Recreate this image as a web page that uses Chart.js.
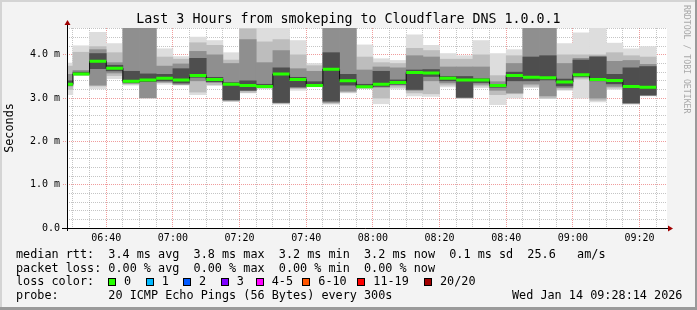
<!DOCTYPE html>
<html><head><meta charset="utf-8">
<script src="https://cdn.jsdelivr.net/npm/chart.js@4/dist/chart.umd.min.js"></script>
<style>
html,body{margin:0;padding:0;background:#f3f3f3;}
#wrap{position:relative;width:697px;height:310px;background:#f3f3f3;overflow:hidden;font-family:"DejaVu Sans Mono",monospace;color:#000;}
#c{position:absolute;left:0;top:0;}
.t{position:absolute;white-space:pre;}
.lg{font-size:11.8px;line-height:13.6px;}
.box{position:absolute;width:6px;height:6px;border:1px solid #000;}
.edge{position:absolute;}
</style></head>
<body>
<div id="wrap">
<canvas id="c" width="697" height="310"></canvas>
<div class="t" style="left:0;width:697px;text-align:center;top:11px;font-size:13.3px;line-height:16px;">Last 3 Hours from smokeping to Cloudflare DNS 1.0.0.1</div>
<div class="t" style="left:682px;top:5px;font-size:8.2px;line-height:9px;color:#a8a8a8;writing-mode:vertical-rl;">RRDTOOL / TOBI OETIKER</div>
<div class="t lg" style="left:16px;top:248px;">median rtt:  3.4 ms avg  3.8 ms max  3.2 ms min  3.2 ms now  0.1 ms sd  25.6   am/s</div>
<div class="t lg" style="left:16px;top:261.6px;">packet loss: 0.00 % avg  0.00 % max  0.00 % min  0.00 % now</div>
<div class="t lg" id="lossRow" style="left:16px;top:275.2px;">loss color:</div>
<div class="t lg" style="left:16px;top:288.8px;">probe:       20 ICMP Echo Pings (56 Bytes) every 300s</div>
<div class="t lg" style="left:512px;top:288.8px;">Wed Jan 14 09:28:14 2026</div>
<div class="edge" style="left:0;top:0;width:697px;height:2px;background:#d4d4d4;"></div>
<div class="edge" style="left:0;top:0;width:2px;height:310px;background:#d4d4d4;"></div>
<div class="edge" style="left:695px;top:0;width:2px;height:310px;background:#9a9a9a;"></div>
<div class="edge" style="left:0;top:307px;width:697px;height:3px;background:#9a9a9a;"></div>
</div>
<script>
// ---- data ----
const binStarts = ['06:25','06:30','06:35','06:40','06:45','06:50','06:55','07:00','07:05','07:10','07:15','07:20',
  '07:25','07:30','07:35','07:40','07:45','07:50','07:55','08:00','08:05','08:10','08:15','08:20',
  '08:25','08:30','08:35','08:40','08:45','08:50','08:55','09:00','09:05','09:10','09:15','09:20'];
const stepMinutes = 5;
const median = [3.32,3.56,3.85,3.69,3.39,3.42,3.46,3.42,3.52,3.43,3.32,3.29,3.27,3.56,3.43,3.29,3.67,3.40,
  3.26,3.32,3.36,3.59,3.58,3.46,3.42,3.42,3.29,3.52,3.48,3.47,3.37,3.54,3.43,3.41,3.27,3.25];
// outermost smoke (min..max)
const aLo = [3.08,3.52,3.21,3.45,3.30,3.00,3.32,3.30,3.08,3.29,2.92,3.12,3.21,2.86,3.18,3.26,2.86,3.12,
  3.22,2.87,3.21,3.05,3.04,3.26,2.99,3.24,2.85,3.00,3.24,2.99,3.18,3.00,2.91,3.20,2.86,3.05];
const aHi = [3.81,4.21,4.52,4.26,4.90,4.90,4.14,3.96,4.41,4.33,4.05,4.90,4.62,4.65,4.33,3.80,4.90,4.90,
  4.23,3.91,3.87,4.46,4.22,4.03,3.98,4.33,4.03,4.12,4.90,4.90,4.26,4.51,4.63,4.27,4.14,4.19];
const bLo = [3.20,3.53,3.28,3.52,3.32,3.00,3.36,3.31,3.14,3.31,2.93,3.13,3.23,2.88,3.22,3.27,2.88,3.14,
  3.23,3.00,3.25,3.12,3.10,3.30,3.00,3.28,3.08,3.10,3.27,3.00,3.20,3.44,2.95,3.23,2.87,3.06];
const bHi = [3.74,4.06,4.19,4.05,4.85,4.85,3.95,3.90,4.28,4.22,3.88,4.60,4.30,4.35,4.00,3.75,4.85,4.85,
  3.95,3.82,3.80,4.15,4.10,3.90,3.90,4.00,3.52,3.98,4.85,4.85,4.00,4.00,4.00,4.05,3.98,3.95];
const cLo = [3.28,3.54,3.30,3.58,3.34,3.01,3.37,3.32,3.40,3.36,2.95,3.18,3.25,2.89,3.24,3.28,2.90,3.16,
  3.24,3.25,3.30,3.18,3.40,3.35,3.01,3.32,3.18,3.12,3.32,3.05,3.24,3.48,3.00,3.27,2.88,3.07];
const cHi = [3.55,3.64,4.12,3.82,4.80,4.80,3.74,3.79,4.08,4.00,3.80,4.35,3.82,4.10,3.68,3.62,4.80,4.80,
  3.65,3.72,3.70,3.98,3.95,3.72,3.72,3.72,3.38,3.80,4.80,4.80,3.80,3.92,3.97,3.85,3.87,3.78];
// innermost smoke (around the median)
const dLo = [3.30,3.55,3.68,3.63,3.36,3.38,3.40,3.35,3.48,3.38,2.96,3.18,3.26,2.90,3.26,3.28,2.93,3.30,
  3.25,3.27,3.32,3.20,3.50,3.40,3.02,3.36,3.25,3.40,3.40,3.42,3.28,3.50,3.40,3.33,2.89,3.07];
const dHi = [3.40,3.60,4.03,3.76,3.62,3.56,3.55,3.68,3.92,3.48,3.36,3.40,3.32,3.70,3.48,3.38,4.05,3.55,
  3.32,3.62,3.42,3.65,3.66,3.50,3.50,3.45,3.31,3.60,3.95,3.98,3.44,3.88,3.95,3.55,3.70,3.73];
const xTickLabels = ['06:40','07:00','07:20','07:40','08:00','08:20','08:40','09:00','09:20'];
const yTickLabels = ['0.0','1.0 m','2.0 m','3.0 m','4.0 m'];
const lossLabels = ['0','1','2','3','4-5','6-10','11-19','20/20'];
const lossColors = ['#26ff00','#00b8ff','#0059ff','#7e00ff','#ff00ff','#ff5500','#ff0000','#a10000'];
const viewStart = '06:28:14', viewEnd = '09:28:14';

// ---- helpers ----
const toMin = s => { const p = s.split(':').map(Number); return p[0]*60 + p[1] + (p[2]||0)/60; };
const xMin = toMin(viewStart), xMax = toMin(viewEnd);
const firstLabelMin = toMin(xTickLabels[0]);
const centers = binStarts.map(s => toMin(s) + stepMinutes/2);
const band = (lo, hi) => centers.map((x,i) => ({x, y:[lo[i], hi[i]]}));

const greenData = [];
median.forEach((m,i) => { const s = toMin(binStarts[i]); greenData.push({x:s,y:m},{x:s+stepMinutes,y:m},{x:s+stepMinutes,y:null}); });
const stepData = median.map((m,i) => ({x:toMin(binStarts[i]), y:m}));
stepData.push({x: toMin(binStarts[binStarts.length-1]) + stepMinutes, y: median[median.length-1]});

// loss legend
(function(){
  const wrap = document.getElementById('wrap');
  const labelX = [124,161.7,199,236.7,271.7,318.3,373.3,440];
  lossLabels.forEach((l,i)=>{
    const b = document.createElement('div'); b.className='box';
    b.style.left = (labelX[i]-16)+'px'; b.style.top='278px'; b.style.background = lossColors[i];
    wrap.appendChild(b);
    const t = document.createElement('div'); t.className='t lg'; t.textContent = l;
    t.style.left = labelX[i]+'px'; t.style.top='275.2px'; wrap.appendChild(t);
  });
})();

const minorGrid = 'rgba(140,140,140,0.5)';
const majorGrid = 'rgba(230,90,90,0.6)';

const rrdFrame = {
  id:'rrdFrame',
  beforeDraw(chart){
    const {ctx, chartArea:a} = chart;
    ctx.save(); ctx.fillStyle='#ffffff';
    ctx.fillRect(a.left, a.top, a.right-a.left, a.bottom-a.top); ctx.restore();
  },
  afterDraw(chart){
    const {ctx, chartArea:a} = chart;
    ctx.save();
    ctx.strokeStyle='#000'; ctx.lineWidth=1;
    const yb = Math.round(a.bottom)+0.5, xl = Math.round(a.left)+0.5;
    ctx.beginPath();
    ctx.moveTo(a.left-5, yb); ctx.lineTo(a.right+2, yb);
    ctx.moveTo(xl, a.bottom+3); ctx.lineTo(xl, a.top-3);
    ctx.stroke();
    ctx.fillStyle='#a00000';
    ctx.beginPath(); ctx.moveTo(a.right+1, yb-3); ctx.lineTo(a.right+6, yb); ctx.lineTo(a.right+1, yb+3); ctx.closePath(); ctx.fill();
    ctx.beginPath(); ctx.moveTo(xl-3, a.top-3); ctx.lineTo(xl, a.top-8); ctx.lineTo(xl+3, a.top-3); ctx.closePath(); ctx.fill();
    ctx.restore();
  }
};

const barBase = {type:'bar', grouped:false, barPercentage:1, categoryPercentage:1, borderWidth:0};
const isWhole = v => Math.abs(v - Math.round(v)) < 1e-6;

new Chart(document.getElementById('c'), {
  data: {
    datasets: [
      {type:'line', data: greenData, borderColor:'#26ff00', borderWidth:3, pointRadius:0, spanGaps:false, order:0, borderCapStyle:'butt'},
      {type:'line', data: stepData, borderColor:'#111', borderWidth:1, pointRadius:0, stepped:'before', order:1},
      Object.assign({data: band(dLo,dHi), backgroundColor:'#4e4e4e', order:2}, barBase),
      Object.assign({data: band(cLo,cHi), backgroundColor:'#8f8f8f', order:3}, barBase),
      Object.assign({data: band(bLo,bHi), backgroundColor:'#bdbdbd', order:4}, barBase),
      Object.assign({data: band(aLo,aHi), backgroundColor:'#dddddd', order:5}, barBase)
    ]
  },
  options: {
    responsive:false, animation:false, devicePixelRatio:1,
    layout:{padding:{left:0, top:28, right:30, bottom:58}},
    plugins:{legend:{display:false}, tooltip:{enabled:false}},
    scales:{
      x:{
        type:'linear', min:xMin, max:xMax, offset:false, z:1,
        afterFit(s){ s.height = 24; },
        afterBuildTicks(s){
          const t=[]; for (let v=Math.ceil(xMin/stepMinutes)*stepMinutes; v<=xMax; v+=stepMinutes) t.push({value:v});
          s.ticks = t;
        },
        grid:{offset:false, drawTicks:false, lineWidth:1,
          color: c => (c.tick && Math.abs(((c.tick.value-firstLabelMin)%20+20)%20) < 1e-6) ? majorGrid : minorGrid},
        border:{display:false, dash:[1,1]},
        ticks:{autoSkip:false, maxRotation:0, padding:4, color:'#000',
          font:{family:'DejaVu Sans Mono', size:10},
          callback: v => { const k=(v-firstLabelMin)/20; return (isWhole(k) && k>=0 && k<xTickLabels.length) ? xTickLabels[Math.round(k)] : ''; }}
      },
      y:{
        type:'linear', min:0, max:4.62, z:1,
        afterFit(s){ s.width = 67; },
        afterBuildTicks(s){ const t=[]; for (let i=0;i<=23;i++) t.push({value: Math.round(i*0.2*10)/10}); s.ticks=t; },
        grid:{drawTicks:true, tickLength:4, tickBorderDash:[1,1],
          color: c => (c.tick && isWhole(c.tick.value)) ? majorGrid : minorGrid,
          tickColor: c => (c.tick && isWhole(c.tick.value)) ? majorGrid : 'rgba(0,0,0,0)'},
        border:{display:false, dash:[1,1]},
        title:{display:true, text:'Seconds', color:'#000', font:{family:'DejaVu Sans Mono', size:11.8}, padding:{top:3,bottom:0}},
        ticks:{autoSkip:false, padding:3, color:'#000', font:{family:'DejaVu Sans Mono', size:10},
          callback: v => isWhole(v) ? yTickLabels[Math.round(v)] : ''}
      }
    }
  },
  plugins:[rrdFrame]
});
</script>
</body></html>
